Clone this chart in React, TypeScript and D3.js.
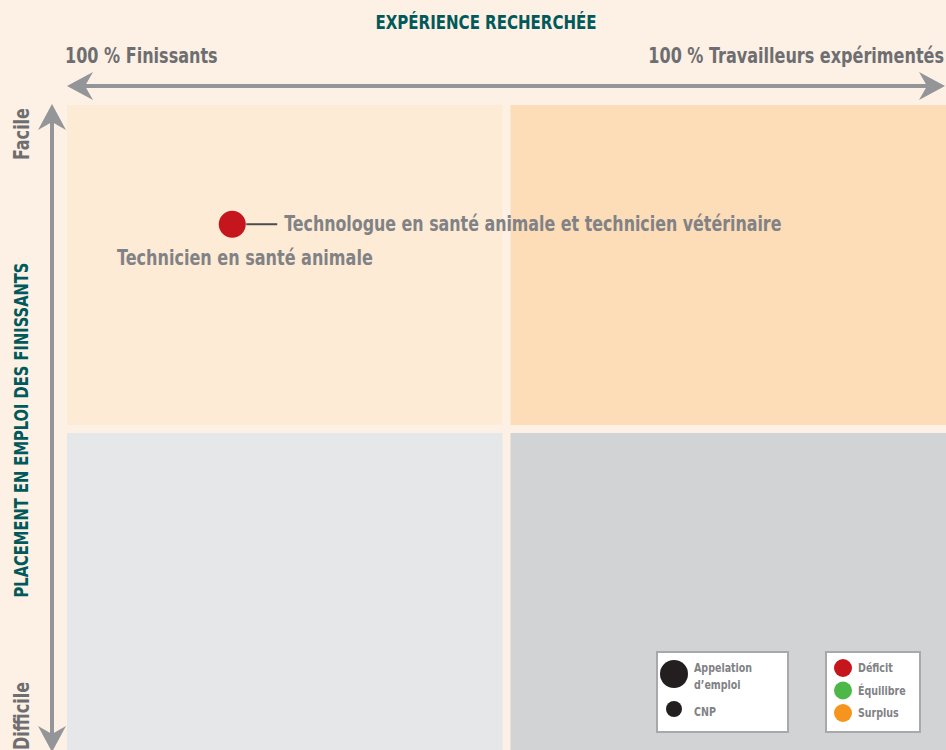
import React from "react";
import * as d3 from "d3";

const W = 946;
const H = 750;

const xTitle = "EXPÉRIENCE RECHERCHÉE";
const yTitle = "PLACEMENT EN EMPLOI DES FINISSANTS";
const xEndLabels = ["100 % Finissants", "100 % Travailleurs expérimentés"];
const yEndLabels = ["Difficile", "Facile"];

const quadrants = [
  { id: "tl", x0: 0, x1: 50, y0: 50, y1: 100, fill: "#feebd6" },
  { id: "tr", x0: 50, x1: 100, y0: 50, y1: 100, fill: "#fddcb8" },
  { id: "bl", x0: 0, x1: 50, y0: 0, y1: 50, fill: "#e6e7e9" },
  { id: "br", x0: 50, x1: 100, y0: 0, y1: 50, fill: "#d2d3d5" },
];

const cnpPoints = [
  {
    label: "Technologue en santé animale et technicien vétérinaire",
    x: 18.8,
    y: 81.6,
    status: "Déficit",
  },
];
const appellationLabels = [{ label: "Technicien en santé animale", x: 5.7, y: 76.5 }];

const sizeLegend = [
  { lines: ["Appelation", "d’emploi"], r: 14 },
  { lines: ["CNP"], r: 8 },
];
const statusLegend = ["Déficit", "Équilibre", "Surplus"];
const statusColors: Record<string, string> = {
  Déficit: "#c4161c",
  Équilibre: "#4db748",
  Surplus: "#f7941d",
};

const FONT = "'DejaVu Sans Condensed', 'Liberation Sans Narrow', sans-serif";
const TEAL = "#00595a";
const GRAY = "#808285";
const DARKGRAY = "#6d6e71";
const ARROW = "#939598";
const SX = 0.85;

function Txt({
  x,
  y,
  rot = 0,
  sx = SX,
  anchor = "start",
  fill,
  size,
  children,
}: {
  x: number;
  y: number;
  rot?: number;
  sx?: number;
  anchor?: string;
  fill: string;
  size: number;
  children: React.ReactNode;
}) {
  return (
    <text
      transform={`translate(${x},${y}) rotate(${rot}) scale(${sx},1)`}
      textAnchor={anchor}
      fill={fill}
      fontSize={size}
    >
      {children}
    </text>
  );
}

export default function App() {
  const x = d3.scaleLinear().domain([0, 100]).range([67, 946]);
  const y = d3.scaleLinear().domain([0, 100]).range([753, 105]);
  const gap = 4;

  const hY = 86;
  const vX = 52;
  const headL = 26;
  const headH = 14;
  const notch = 8;

  const leftHead = `M${x(0)},${hY} L${x(0) + headL},${hY - headH} L${x(0) + headL - notch},${hY} L${x(0) + headL},${hY + headH} Z`;
  const rightTip = 945;
  const rightHead = `M${rightTip},${hY} L${rightTip - headL},${hY - headH} L${rightTip - headL + notch},${hY} L${rightTip - headL},${hY + headH} Z`;
  const topTip = 104;
  const topHead = `M${vX},${topTip} L${vX - headH},${topTip + headL} L${vX},${topTip + headL - notch} L${vX + headH},${topTip + headL} Z`;
  const botTip = 752;
  const botHead = `M${vX},${botTip} L${vX - headH},${botTip - headL} L${vX},${botTip - headL + notch} L${vX + headH},${botTip - headL} Z`;

  return (
    <svg
      width={W}
      height={H}
      style={{ position: "absolute", left: 0, top: 0, display: "block" }}
      fontFamily={FONT}
      fontWeight="bold"
    >
      <rect x={0} y={0} width={W} height={H} fill="#fdf0e4" />
      {quadrants.map((q) => (
        <rect
          key={q.id}
          x={x(q.x0) + (q.x0 > 0 ? gap : 0)}
          y={y(q.y1) + (q.y1 < 100 ? gap : 0)}
          width={x(q.x1) - x(q.x0) - (q.x0 > 0 ? gap : 0) - (q.x1 < 100 ? gap : 0)}
          height={y(q.y0) - y(q.y1) - (q.y1 < 100 ? gap : 0) - (q.y0 > 0 ? gap : 0)}
          fill={q.fill}
        />
      ))}

      {/* titles */}
      <Txt x={486} y={29} anchor="middle" fill={TEAL} size={19} sx={0.88}>
        {xTitle}
      </Txt>
      <Txt x={65} y={63} fill={DARKGRAY} size={21}>
        {xEndLabels[0]}
      </Txt>
      <Txt x={944} y={63} anchor="end" fill={DARKGRAY} size={21}>
        {xEndLabels[1]}
      </Txt>
      <Txt x={28} y={430} rot={-90} anchor="middle" fill={TEAL} size={19} sx={0.86}>
        {yTitle}
      </Txt>
      <Txt x={29} y={108} rot={-90} anchor="end" fill={DARKGRAY} size={21}>
        {yEndLabels[1]}
      </Txt>
      <Txt x={29} y={750} rot={-90} anchor="start" fill={DARKGRAY} size={21}>
        {yEndLabels[0]}
      </Txt>

      {/* arrows */}
      <line x1={x(0) + 10} x2={rightTip - 10} y1={hY} y2={hY} stroke={ARROW} strokeWidth={4} />
      <path d={leftHead} fill={ARROW} />
      <path d={rightHead} fill={ARROW} />
      <line x1={vX} x2={vX} y1={topTip + 10} y2={botTip - 10} stroke={ARROW} strokeWidth={4} />
      <path d={topHead} fill={ARROW} />
      <path d={botHead} fill={ARROW} />

      {/* points */}
      {cnpPoints.map((p) => (
        <g key={p.label}>
          <line x1={x(p.x) + 14} x2={x(p.x) + 45} y1={y(p.y)} y2={y(p.y)} stroke="#4d4d4f" strokeWidth={2} />
          <circle cx={x(p.x)} cy={y(p.y)} r={13.5} fill={statusColors[p.status]} />
          <Txt x={x(p.x) + 52} y={y(p.y) + 7} fill={GRAY} size={21} sx={0.84}>
            {p.label}
          </Txt>
        </g>
      ))}
      {appellationLabels.map((a) => (
        <Txt key={a.label} x={x(a.x)} y={y(a.y) + 8} fill={GRAY} size={21}>
          {a.label}
        </Txt>
      ))}

      {/* legends */}
      <g>
        <rect x={657} y={652} width={131} height={80} fill="#ffffff" stroke="#a7a9ac" strokeWidth={2} />
        <circle cx={674} cy={674} r={sizeLegend[0].r} fill="#231f20" />
        <circle cx={674} cy={709} r={sizeLegend[1].r} fill="#231f20" />
        <Txt x={694} y={672} fill={GRAY} size={12} sx={0.88}>
          {sizeLegend[0].lines[0]}
        </Txt>
        <Txt x={694} y={689} fill={GRAY} size={12} sx={0.88}>
          {sizeLegend[0].lines[1]}
        </Txt>
        <Txt x={694} y={716} fill={GRAY} size={12} sx={0.88}>
          {sizeLegend[1].lines[0]}
        </Txt>
      </g>
      <g>
        <rect x={826} y={652} width={94} height={80} fill="#ffffff" stroke="#a7a9ac" strokeWidth={2} />
        {statusLegend.map((s, i) => (
          <g key={s}>
            <circle cx={843} cy={668 + i * 22.5} r={9} fill={statusColors[s]} />
            <Txt x={858} y={672 + i * 22.5} fill={GRAY} size={12} sx={0.88}>
              {s}
            </Txt>
          </g>
        ))}
      </g>
    </svg>
  );
}
